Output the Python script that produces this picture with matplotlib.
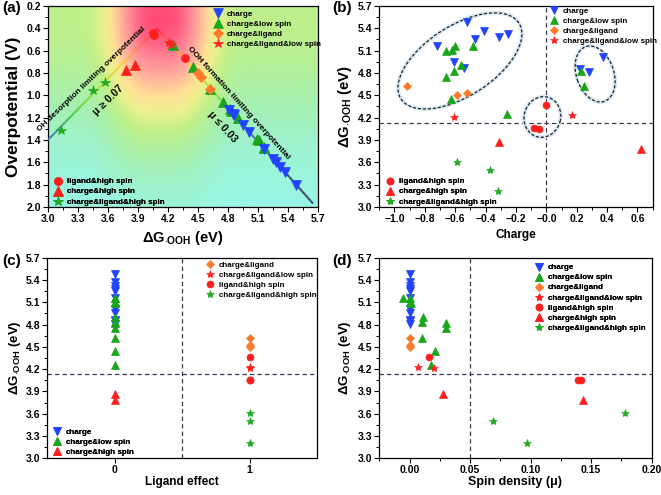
import numpy as np
import matplotlib
matplotlib.use("Agg")
import matplotlib.pyplot as plt
from matplotlib.colors import LinearSegmentedColormap
from matplotlib.collections import LineCollection
from matplotlib.patches import Ellipse
from matplotlib.transforms import Affine2D

# ---------------- datos ----------------
# charge (triangulos azules)
charge_dG = [5.48, 5.37, 5.32, 5.28, 5.25, 5.16, 5.01, 4.95, 4.86, 4.85, 4.81]
charge_q = [-0.52, -0.41, -0.25, -0.31, -0.47, -0.72, 0.37, -0.61, -0.54, 0.22, 0.28]
charge_lig = [0, 0, 0, 0, 0, 0, 0, 0, 0, 0, 0]
charge_spin = [0.0, 0.0, 0.0, 0.0, 0.0, 0.0, 0.0, 0.0, 0.0, 0.0, 0.0]
charge_eta = [1.80, 1.69, 1.64, 1.60, 1.57, 1.48, 1.33, 1.27, 1.18, 1.17, 1.13]

# charge&low spin
lowspin_dG = [5.16, 5.16, 5.11, 5.09, 4.90, 4.83, 4.75, 4.45, 4.25, 4.82, 4.62]
lowspin_q = [-0.60, -0.48, -0.62, -0.66, -0.56, -0.61, -0.66, -0.63, -0.26, 0.23, 0.25]
lowspin_lig = [0, 0, 0, 0, 0, 0, 0, 0, 0, 0, 0]
lowspin_spin = [-0.005, 0.0, 0.0, 0.001, 0.011, 0.010, 0.030, 0.021, 0.018, 0.030, 0.010]
lowspin_eta = [1.46, 1.47, 1.40, 1.39, 1.20, 1.14, 1.06, 0.75, 0.55, 1.12, 0.94]

# charge&ligand
ligand_dG = [4.62, 4.50, 4.53]
ligand_q = [-0.92, -0.59, -0.52]
ligand_lig = [1, 1, 1]
ligand_spin = [0.0, 0.0, 0.0]
ligand_eta = [0.94, 0.80, 0.84]

# charge&ligand&low spin
liglow_dG = [4.21, 4.23]
liglow_q = [-0.61, 0.17]
liglow_lig = [1, 1]
liglow_spin = [0.020, 0.007]
liglow_eta = [0.52, 0.54]

# ligand&high spin
lighs_dG = [4.37, 4.06, 4.05]
lighs_q = [0.0, -0.08, -0.05]
lighs_lig = [1, 1, 1]
lighs_spin = [0.016, 0.142, 0.139]
lighs_eta = [0.67, 0.46, 0.44]

# charge&high spin
chhs_dG = [3.87, 3.78]
chhs_q = [-0.31, 0.62]
chhs_lig = [0, 0]
chhs_spin = [0.028, 0.143]
chhs_eta = [0.73, 0.77]

# charge&ligand&high spin
allhs_dG = [3.61, 3.50, 3.21]
allhs_dG_a = [3.57, 3.45, 3.13]
allhs_q = [-0.59, -0.37, -0.32]
allhs_lig = [1, 1, 1]
allhs_spin = [0.178, 0.069, 0.097]
allhs_eta = [0.88, 0.95, 1.31]

# curva volcan
volcano_dG = [3.0, 4.09, 5.65]
volcano_eta = [1.40, 0.40, 1.97]

dG_ref = 4.13
q_ref = 0.0
lig_ref = 0.5
spin_ref = 0.05

# ---------------- estilo ----------------
FONT_N = ['Liberation Sans Narrow', 'Liberation Sans', 'DejaVu Sans']
FONT_R = ['Liberation Sans', 'DejaVu Sans']
plt.rcParams['font.family'] = FONT_N
plt.rcParams['font.weight'] = 'bold'
plt.rcParams['axes.labelweight'] = 'bold'
plt.rcParams['mathtext.fontset'] = 'custom'
plt.rcParams['mathtext.rm'] = 'Liberation Sans'
plt.rcParams['mathtext.bf'] = 'Liberation Sans:bold'
plt.rcParams['mathtext.default'] = 'bf'
plt.rcParams['axes.linewidth'] = 0.9

styles = {
    'charge': dict(marker='v', color='#2244ff', ms=6),
    'charge&low spin': dict(marker='^', color='#1aa61a', ms=6),
    'charge&ligand': dict(marker='D', color='#ff7a2a', ms=4.5),
    'charge&ligand&low spin': dict(marker='*', color='#ff2222', ms=6),
    'ligand&high spin': dict(marker='o', color='#ff1f1f', ms=5),
    'charge&high spin': dict(marker='^', color='#ff1f1f', ms=6),
    'charge&ligand&high spin': dict(marker='*', color='#22aa22', ms=6),
}

DG_LABEL = 'ΔG$_{\\cdot OOH}$ (eV)'


def draw(ax, x, y, name, scale=1.0):
    st = styles[name]
    h, = ax.plot(x, y, linestyle='none', marker=st['marker'], color=st['color'],
                 markersize=st['ms'] * scale, markeredgewidth=0.5,
                 markeredgecolor=st['color'], label=name, zorder=5)
    return h


def legend(ax, handles, loc, anchor):
    lg = ax.legend(handles=handles, loc=loc, bbox_to_anchor=anchor, frameon=False,
                   handlelength=1.0, handletextpad=0.6,
                   labelspacing=0.3, borderpad=0, borderaxespad=0,
                   prop={'family': FONT_N, 'weight': 'bold', 'size': 5.8})
    ax.add_artist(lg)
    return lg


def style_axes(ax):
    ax.tick_params(which='major', direction='out', length=3.5, width=0.8,
                   labelsize=7.5, pad=1.5)
    ax.tick_params(which='minor', direction='out', length=2, width=0.7)


def ref_lines(ax, xv, yv):
    ax.axvline(xv, color='#3a3a55', lw=0.9, ls=(0, (3.5, 2.5)), zorder=2)
    ax.axhline(yv, color='#3a3a55', lw=0.9, ls=(0, (3.5, 2.5)), zorder=2)


def set_labels(ax, xlabel, ylabel, xsize, ysize, xy_x, xy_y):
    ax.set_xlabel(xlabel, fontsize=xsize, va='center', fontweight='bold')
    ax.set_ylabel(ylabel, fontsize=ysize, va='center', family=FONT_R, fontweight='bold')
    ax.xaxis.set_label_coords(0.5, xy_y)
    ax.yaxis.set_label_coords(xy_x, 0.5)


fig = plt.figure(figsize=(6.61, 4.95), dpi=100)

ax_a = fig.add_axes([0.0726, 0.582, 0.4085, 0.406])
ax_b = fig.add_axes([0.5738, 0.582, 0.4136, 0.406])
ax_c = fig.add_axes([0.0711, 0.0741, 0.4085, 0.4053])
ax_d = fig.add_axes([0.5738, 0.0741, 0.4121, 0.4053])

# ---------------- (a) ----------------
# fondo decorativo del mapa de volcan
bg_cmap = LinearSegmentedColormap.from_list('fondo', [
    (0.0, '#98f6ea'), (0.18, '#a6f0b0'), (0.34, '#bff08a'), (0.48, '#eef08e'),
    (0.6, '#ffe096'), (0.74, '#ffb49c'), (0.88, '#ff8596'), (1.0, '#ff4d78')])
gx = np.linspace(3.0, 5.7, 300)
gy = np.linspace(0.2, 2.0, 300)
GX, GY = np.meshgrid(gx, gy)
fx = np.exp(-(np.abs(GX - 4.12) / 0.5) ** 3)
gyv = np.exp(-((GY - 0.3) / 1.0) ** 2)
Z = (0.33 + 0.67 * fx) * gyv
ax_a.imshow(Z, extent=[3.0, 5.7, 2.0, 0.2], origin='upper', aspect='auto',
            cmap=bg_cmap, vmin=0, vmax=1, interpolation='bilinear', zorder=0)

line_cmap = LinearSegmentedColormap.from_list('linea', [
    (0.0, '#3d4f6e'), (0.2, '#4466dd'), (0.4, '#44cc44'), (0.6, '#bde040'),
    (0.75, '#ffd23f'), (0.9, '#ff6a5a'), (1.0, '#ff2848')])
for i in range(len(volcano_dG) - 1):
    t = np.linspace(0, 1, 60)
    xs = volcano_dG[i] + t * (volcano_dG[i + 1] - volcano_dG[i])
    ys = volcano_eta[i] + t * (volcano_eta[i + 1] - volcano_eta[i])
    pts = np.column_stack([xs, ys]).reshape(-1, 1, 2)
    segs = np.concatenate([pts[:-1], pts[1:]], axis=1)
    v = np.clip(1 - (0.5 * (ys[:-1] + ys[1:]) - 0.4) / 1.3, 0, 1)
    lc = LineCollection(segs, colors=line_cmap(v), linewidths=1.5, zorder=3)
    ax_a.add_collection(lc)

sa = 1.15
h1 = draw(ax_a, lowspin_dG, lowspin_eta, 'charge&low spin', sa)
h0 = draw(ax_a, charge_dG, charge_eta, 'charge', sa)
h2 = draw(ax_a, ligand_dG, ligand_eta, 'charge&ligand', sa)
h3 = draw(ax_a, liglow_dG, liglow_eta, 'charge&ligand&low spin', sa)
h4 = draw(ax_a, lighs_dG, lighs_eta, 'ligand&high spin', sa)
h5 = draw(ax_a, chhs_dG, chhs_eta, 'charge&high spin', sa)
h6 = draw(ax_a, allhs_dG_a, allhs_eta, 'charge&ligand&high spin', sa)

ax_a.set_xlim(3.0, 5.7)
ax_a.set_ylim(2.0, 0.2)
ax_a.set_xticks(np.arange(3.0, 5.71, 0.3))
ax_a.set_xticks(np.arange(3.0, 5.71, 0.15), minor=True)
ax_a.set_yticks(np.arange(0.2, 2.01, 0.2))
ax_a.set_yticks(np.arange(0.2, 2.01, 0.1), minor=True)
ax_a.xaxis.set_major_formatter('{x:.1f}')
ax_a.yaxis.set_major_formatter('{x:.1f}')
style_axes(ax_a)
set_labels(ax_a, DG_LABEL, 'Overpotential (V)', 10.5, 12.5, -0.126, -0.154)

legend(ax_a, [h0, h1, h2, h3], 'upper left', (0.615, 0.978))
legend(ax_a, [h4, h5, h6], 'lower left', (0.022, 0.007))

ax_a.text(3.437, 0.855, 'OH desorption limiting overpotential', rotation=44,
          rotation_mode='anchor', ha='center', va='center', fontsize=6, zorder=6)
ax_a.text(3.6, 1.04, 'μ ≥ 0.07', rotation=44, rotation_mode='anchor',
          ha='center', va='center', fontsize=7.5, zorder=6)
ax_a.text(4.903, 1.071, 'OOH formation limiting overpotential', rotation=-48,
          rotation_mode='anchor', ha='center', va='center', fontsize=6, zorder=6)
ax_a.text(4.747, 1.28, 'μ ≤ 0.03', rotation=-48, rotation_mode='anchor',
          ha='center', va='center', fontsize=7.5, zorder=6)

# ---------------- (b) ----------------
ax_b.set_xlim(-1.1, 0.7)
ax_b.set_ylim(3.0, 5.7)
ref_lines(ax_b, q_ref, dG_ref)
hb0 = draw(ax_b, charge_q, charge_dG, 'charge')
hb1 = draw(ax_b, lowspin_q, lowspin_dG, 'charge&low spin')
hb2 = draw(ax_b, ligand_q, ligand_dG, 'charge&ligand')
hb3 = draw(ax_b, liglow_q, liglow_dG, 'charge&ligand&low spin')
hb4 = draw(ax_b, lighs_q, lighs_dG, 'ligand&high spin')
hb5 = draw(ax_b, chhs_q, chhs_dG, 'charge&high spin')
hb6 = draw(ax_b, allhs_q, allhs_dG, 'charge&ligand&high spin')

ax_b.set_xticks(np.arange(-1.0, 0.61, 0.2))
ax_b.set_xticks(np.arange(-1.1, 0.71, 0.1), minor=True)
ax_b.set_yticks(np.arange(3.0, 5.71, 0.3))
ax_b.set_yticks(np.arange(3.0, 5.71, 0.15), minor=True)
ax_b.xaxis.set_major_formatter('{x:.1f}')
ax_b.yaxis.set_major_formatter('{x:.1f}')
style_axes(ax_b)
set_labels(ax_b, 'Charge', DG_LABEL, 8.5, 10.7, -0.125, -0.139)
legend(ax_b, [hb0, hb1, hb2, hb3], 'upper left', (0.624, 0.994))
legend(ax_b, [hb4, hb5, hb6], 'lower left', (0.025, 0.007))

# grupos marcados con elipses (centro, ancho, alto, angulo en escala de pantalla)
groups = [((-0.569, 4.961), 1.884, 0.944, 32.7),
          ((0.321, 4.786), 0.777, 0.503, -71.4),
          ((-0.026, 4.208), 0.55, 0.49, 75)]
pos = ax_b.get_position()
px_x = pos.width * fig.get_figwidth() / 1.8
px_y = pos.height * fig.get_figheight() / 2.7
k = px_x / px_y
tr = Affine2D().scale(1 / k, 1) + ax_b.transData
for (cx, cy), w, hgt, ang in groups:
    ax_b.add_patch(Ellipse((cx * k, cy), w, hgt, angle=ang, transform=tr,
                           fill=False, lw=2.8, ec='#d8e8f3', zorder=3))
    ax_b.add_patch(Ellipse((cx * k, cy), w, hgt, angle=ang, transform=tr,
                           fill=False, lw=0.9, ec='#222222', ls=(0, (2.5, 1.5)), zorder=4))

# ---------------- (c) ----------------
ax_c.set_xlim(-0.5, 1.5)
ax_c.set_ylim(3.0, 5.7)
ref_lines(ax_c, lig_ref, dG_ref)
hc0 = draw(ax_c, charge_lig, charge_dG, 'charge')
hc1 = draw(ax_c, lowspin_lig, lowspin_dG, 'charge&low spin')
hc2 = draw(ax_c, ligand_lig, ligand_dG, 'charge&ligand')
hc3 = draw(ax_c, liglow_lig, liglow_dG, 'charge&ligand&low spin')
hc4 = draw(ax_c, lighs_lig, lighs_dG, 'ligand&high spin')
hc5 = draw(ax_c, chhs_lig, chhs_dG, 'charge&high spin')
hc6 = draw(ax_c, allhs_lig, allhs_dG, 'charge&ligand&high spin')
ax_c.set_xticks([0, 1])
ax_c.set_yticks(np.arange(3.0, 5.71, 0.3))
ax_c.set_yticks(np.arange(3.0, 5.71, 0.15), minor=True)
ax_c.yaxis.set_major_formatter('{x:.1f}')
style_axes(ax_c)
set_labels(ax_c, 'Ligand effect', DG_LABEL, 8.5, 9.6, -0.119, -0.118)
legend(ax_c, [hc2, hc3, hc4, hc6], 'upper left', (0.59, 0.983))
legend(ax_c, [hc0, hc1, hc5], 'lower left', (0.022, 0.01))

# ---------------- (d) ----------------
ax_d.set_xlim(-0.025, 0.2)
ax_d.set_ylim(3.0, 5.7)
ref_lines(ax_d, spin_ref, dG_ref)
hd0 = draw(ax_d, charge_spin, charge_dG, 'charge')
hd1 = draw(ax_d, lowspin_spin, lowspin_dG, 'charge&low spin')
hd2 = draw(ax_d, ligand_spin, ligand_dG, 'charge&ligand')
hd3 = draw(ax_d, liglow_spin, liglow_dG, 'charge&ligand&low spin')
hd4 = draw(ax_d, lighs_spin, lighs_dG, 'ligand&high spin')
hd5 = draw(ax_d, chhs_spin, chhs_dG, 'charge&high spin')
hd6 = draw(ax_d, allhs_spin, allhs_dG, 'charge&ligand&high spin')
ax_d.set_xticks(np.arange(0.0, 0.201, 0.05))
ax_d.set_xticks(np.arange(-0.025, 0.201, 0.025), minor=True)
ax_d.set_yticks(np.arange(3.0, 5.71, 0.3))
ax_d.set_yticks(np.arange(3.0, 5.71, 0.15), minor=True)
ax_d.xaxis.set_major_formatter('{x:.2f}')
ax_d.yaxis.set_major_formatter('{x:.1f}')
style_axes(ax_d)
set_labels(ax_d, 'Spin density (μ)', DG_LABEL, 9, 9.6, -0.126, -0.118)
legend(ax_d, [hd0, hd1, hd2, hd3, hd4, hd5, hd6], 'upper left', (0.571, 0.97))

# etiquetas de panel
for xf, yf, lab in [(0.003, 0.997, '(a)'), (0.503, 0.997, '(b)'),
                    (0.003, 0.487, '(c)'), (0.503, 0.487, '(d)')]:
    fig.text(xf, yf, lab, fontsize=11, va='top', ha='left')

fig.savefig('out.png', dpi=100)
